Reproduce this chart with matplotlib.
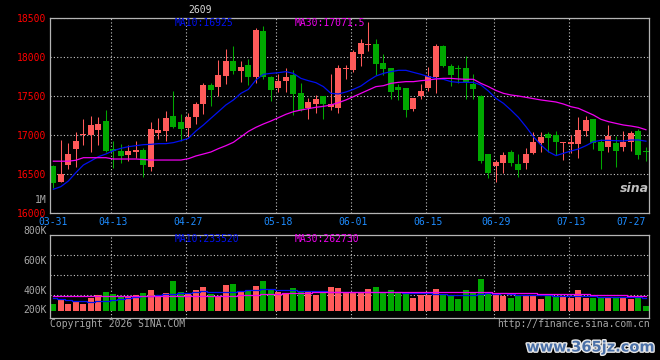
"""Sina-style daily K-line chart with volume panel (black background)."""

import matplotlib
matplotlib.use("Agg")
import matplotlib.pyplot as plt
import matplotlib.patheffects as pe
import numpy as np

# ==============================================================================
# DATA
# ==============================================================================

date_labels = ["03-31", "04-13", "04-27", "05-18", "06-01", "06-15", "06-29", "07-13", "07-27"]
date_index = [0, 8, 18, 30, 40, 50, 59, 69, 79]

opens = [
    16607, 16406, 16619, 16825, 17000, 17004, 17068, 17188, 16820, 16803,
    16748, 16790, 16812, 16594, 17025, 17055, 17248, 17171, 17098, 17235,
    17401, 17649, 17615, 17765, 17953, 17824, 17901, 17751, 18340, 17748,
    17611, 17696, 17773, 17542, 17346, 17401, 17504, 17363, 17354, 17846,
    17837, 18042, 18160, 18170, 17927, 17863, 17619, 17607, 17337, 17508,
    17607, 17748, 18145, 17889, 17863, 17867, 17658, 17500, 16760, 16607,
    16645, 16786, 16632, 16641, 16773, 16901, 17021, 17008, 16897, 16888,
    16888, 17059, 17209, 16914, 16850, 16901, 16850, 16914, 17055, 16786,
]
closes = [
    16393, 16500, 16760, 16927, 17010, 17132, 17145, 16803, 16800, 16739,
    16799, 16816, 16619, 17081, 17072, 17226, 17107, 17085, 17235, 17401,
    17645, 17581, 17773, 17953, 17824, 17876, 17752, 18350, 17751, 17581,
    17696, 17748, 17530, 17324, 17427, 17461, 17401, 17397, 17859, 17855,
    18068, 18183, 18175, 17918, 17854, 17555, 17581, 17324, 17478, 17568,
    17756, 18145, 17889, 17773, 17846, 17679, 17598, 16675, 16521, 16658,
    16747, 16645, 16555, 16760, 16914, 16978, 16965, 16918, 16914, 16914,
    17068, 17196, 16901, 16799, 16991, 16799, 16914, 17029, 16747, 16781,
]
highs = [
    16620, 16940, 16901, 17043, 17209, 17253, 17235, 17324, 16931, 16889,
    16876, 16927, 16833, 17175, 17226, 17307, 17568, 17273, 17286, 17427,
    17675, 17666, 17965, 18106, 18145, 17953, 17978, 18370, 18400, 17760,
    17786, 17867, 17837, 17666, 17474, 17517, 17504, 17786, 17901, 17901,
    18094, 18235, 18449, 18235, 18042, 17863, 17658, 17607, 17478, 17658,
    17876, 18171, 18158, 17914, 17901, 18017, 17786, 17517, 16760, 16684,
    16786, 16811, 16760, 16837, 17042, 17042, 17042, 17055, 16914, 17004,
    17235, 17247, 17209, 16952, 17132, 16991, 17055, 17055, 17081, 16850,
]
lows = [
    16329, 16400, 16568, 16594, 16876, 16780, 16876, 16790, 16577, 16649,
    16675, 16713, 16470, 16547, 16957, 16927, 17094, 16931, 16974, 17145,
    17273, 17376, 17508, 17658, 17786, 17688, 17645, 17675, 17720, 17440,
    17560, 17560, 17265, 17316, 17209, 17290, 17209, 17324, 17290, 17722,
    17807, 17889, 18085, 17773, 17773, 17470, 17453, 17239, 17312, 17470,
    17572, 17547, 17880, 17632, 17666, 17465, 17465, 16641, 16457, 16406,
    16521, 16607, 16465, 16568, 16756, 16786, 16786, 16747, 16683, 16773,
    16709, 16991, 16824, 16568, 16786, 16594, 16799, 16799, 16696, 16670,
]
ma10 = [
    16308, 16342, 16414, 16521, 16619, 16671, 16726, 16760, 16803, 16833,
    16854, 16867, 16880, 16884, 16893, 16893, 16906, 16931, 16961, 17055,
    17132, 17218, 17303, 17389, 17453, 17538, 17589, 17709, 17782, 17794,
    17803, 17816, 17794, 17730, 17700, 17675, 17624, 17538, 17530, 17555,
    17589, 17632, 17700, 17760, 17794, 17816, 17833, 17833, 17807, 17782,
    17752, 17730, 17718, 17688, 17679, 17679, 17679, 17645, 17568, 17474,
    17410, 17324, 17230, 17111, 16982, 16876, 16790, 16739, 16769, 16799,
    16824, 16867, 16918, 16935, 16935, 16931, 16927, 16940, 16940, 16925,
]
ma30 = [
    16668, 16668, 16668, 16680, 16713, 16713, 16713, 16713, 16696, 16696,
    16696, 16696, 16690, 16683, 16683, 16683, 16683, 16683, 16700, 16735,
    16760, 16786, 16829, 16867, 16910, 16980, 17050, 17102, 17145, 17183,
    17226, 17269, 17303, 17324, 17342, 17359, 17371, 17389, 17418, 17453,
    17495, 17538, 17581, 17624, 17636, 17666, 17679, 17688, 17688, 17700,
    17709, 17722, 17730, 17730, 17722, 17718, 17718, 17666, 17624, 17575,
    17538, 17517, 17504, 17487, 17470, 17453, 17440, 17427, 17401, 17367,
    17346, 17303, 17260, 17205, 17175, 17153, 17132, 17119, 17102, 17071.5,
]

# volume in thousands
volume = [
    122, 192, 122, 163, 122, 228, 275, 332, 298, 262,
    262, 275, 315, 368, 275, 315, 525, 332, 315, 368,
    420, 298, 262, 455, 472, 345, 345, 438, 525, 385,
    332, 315, 402, 332, 332, 280, 315, 420, 402, 332,
    332, 332, 385, 420, 332, 368, 315, 332, 228, 280,
    275, 385, 280, 280, 210, 368, 315, 560, 310, 315,
    262, 228, 262, 262, 262, 210, 262, 262, 262, 228,
    368, 228, 228, 228, 228, 228, 228, 210, 262, 88,
]
vol_ma10 = [
    233, 210, 192, 181, 169, 157, 169, 181, 192, 204,
    222, 245, 262, 268, 274, 292, 297, 315, 320, 332,
    344, 338, 332, 326, 332, 350, 367, 367, 385, 379,
    367, 362, 362, 356, 356, 350, 344, 338, 338, 338,
    338, 332, 332, 332, 332, 326, 326, 320, 309, 309,
    309, 297, 292, 280, 280, 274, 280, 292, 309, 297,
    309, 297, 280, 280, 280, 280, 274, 262, 262, 257,
    257, 268, 257, 251, 251, 251, 251, 245, 245, 233.5,
]
vol_ma30 = [
    268, 268, 268, 266, 266, 264, 262, 262, 260, 260,
    258, 258, 257, 257, 257, 258, 258, 258, 258, 258,
    260, 262, 264, 266, 270, 276, 282, 288, 294, 300,
    305, 310, 314, 318, 322, 325, 328, 330, 332, 334,
    338, 338, 338, 338, 336, 336, 334, 332, 332, 330,
    330, 328, 328, 326, 326, 326, 326, 326, 324, 322,
    318, 316, 314, 310, 308, 306, 304, 302, 300, 298,
    294, 290, 286, 282, 278, 274, 272, 270, 266, 262.7,
]

price_ticks = [16000, 16500, 17000, 17500, 18000, 18500]

# ==============================================================================
# STYLE
# ==============================================================================

W, H = 660, 360
RED = "#FF5A5A"
GREEN = "#00A800"
BLUE = "#0010F0"
MAGENTA = "#F000F0"
FRAME = "#B4B4B4"
GRID = "#C8C8C8"
GRAY = "#A8A8A8"
XLAB = "#1E8CFF"
MONO = "DejaVu Sans Mono"
FS = 7


def frac(x, y):
    """Pixel position (from top-left) to figure fraction."""
    return x / W, 1 - y / H


def style_axes(ax):
    ax.set_facecolor("black")
    for sp in ax.spines.values():
        sp.set_color(FRAME)
        sp.set_linewidth(0.9)
    ax.set_xlim(-0.45, 79.45)
    for i in date_index[1:-1]:
        ax.axvline(i - 0.3, color=GRID, lw=0.8, ls=(0, (1, 2)), zorder=0.5)


# ==============================================================================
# PLOT
# ==============================================================================

fig = plt.figure(figsize=(W / 100, H / 100), dpi=100, facecolor="black")
ax = fig.add_axes([50 / W, 1 - 213.3 / H, 599.3 / W, 195 / H])
axv = fig.add_axes([50 / W, 1 - 318 / H, 599.3 / W, 83.3 / H])

idx = np.arange(len(opens))
o = np.array(opens, float)
c = np.array(closes, float)
up = c >= o
colors = np.where(up, RED, GREEN)

# price panel
style_axes(ax)
ax.vlines(idx, lows, highs, colors=colors, lw=0.75, zorder=2)
ax.bar(idx, np.maximum(np.abs(c - o), 12), bottom=np.minimum(o, c), width=0.8,
       color=colors, lw=0, zorder=2)
ax.plot(idx, ma10, color=BLUE, lw=0.9, zorder=3)
ax.plot(idx, ma30, color=MAGENTA, lw=0.9, zorder=3)
ax.set_ylim(16000, 18500)
ax.set_yticks(price_ticks, [str(t) for t in price_ticks])
ax.grid(axis="y", color=GRID, lw=0.8, ls=(0, (1, 2)))
ax.set_axisbelow(True)
ax.set_xticks(date_index, date_labels)
ax.tick_params(axis="x", length=0, pad=2.5, colors=XLAB, labelsize=FS)
ax.tick_params(axis="y", length=0, pad=3, colors="red", labelsize=FS)
for lab in ax.get_xticklabels() + ax.get_yticklabels():
    lab.set_family(MONO)
ax.get_xticklabels()[-1].set_ha("right")

# volume panel
style_axes(axv)
axv.bar(idx, volume, width=0.8, color=colors, lw=0, zorder=2)
axv.plot(idx, vol_ma10, color=BLUE, lw=0.9, drawstyle="steps-mid", zorder=3)
axv.plot(idx, vol_ma30, color=MAGENTA, lw=0.9, drawstyle="steps-mid", zorder=3)
axv.set_ylim(-122.5, 1335)
axv.set_yticks([280, 630, 980])
axv.grid(axis="y", color=GRID, lw=0.8, ls=(0, (1, 2)))
axv.set_axisbelow(True)
axv.set_xticks([])
axv.tick_params(axis="y", length=0, labelleft=False)

# texts
txt = dict(family=MONO, fontsize=FS, va="center")
fig.text(*frac(200, 10), "2609", color="#D8D8D8", ha="center", **txt)
fig.text(*frac(175, 23.5), "MA10:16925", color=BLUE, **txt)
fig.text(*frac(295, 23.5), "MA30:17071.5", color=MAGENTA, **txt)
fig.text(*frac(175, 239), "MA10:233520", color=BLUE, **txt)
fig.text(*frac(295, 239), "MA30:262730", color=MAGENTA, **txt)
fig.text(*frac(46.5, 200), "1M", color=GRAY, ha="right", **txt)
for lab, y in zip(["800K", "600K", "400K", "200K"], [231, 261, 290.5, 310]):
    fig.text(*frac(46.5, y), lab, color=GRAY, ha="right", **txt)
fig.text(*frac(50, 324), "Copyright 2026 SINA.COM", color=GRAY, ha="left", **txt)
fig.text(*frac(650, 324), "http://finance.sina.com.cn", color=GRAY, ha="right", **txt)
fig.text(*frac(634, 188), "sina", color="#C0C0C0", ha="center", va="center",
         fontsize=9, weight="bold", style="italic")
fig.text(*frac(655, 347), "www.365jz.com", color="#4A70A8", ha="right", va="center",
         fontsize=10.5, weight="bold",
         path_effects=[pe.withStroke(linewidth=2, foreground="#E8E8E8")])

fig.savefig("out.png", dpi=100, facecolor="black")
